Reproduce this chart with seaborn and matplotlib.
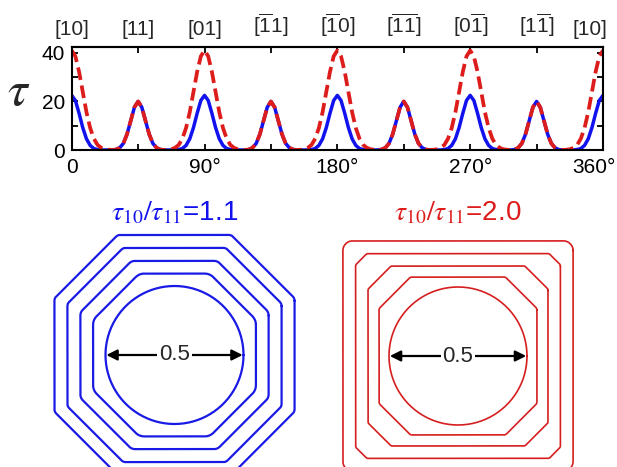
import numpy as np
import matplotlib
matplotlib.use("Agg")
import matplotlib.pyplot as plt
import matplotlib.transforms as mtransforms
import seaborn as sns

# ---------------- data ----------------
# tau(theta), sampled every 2.5 degrees from 0 to 360
blue_tau = [
    22.5, 20.4, 15.1, 9.2, 4.6, 1.9, 0.6, 0.2, 0, 0, 0, 0, 0.2, 0.9, 2.7, 6.5, 12.1, 17.6,
    20.0, 17.6, 12.1, 6.5, 2.7, 0.9, 0.2, 0, 0, 0, 0, 0.2, 0.6, 1.9, 4.6, 9.2, 15.1, 20.4,
    22.5, 20.4, 15.1, 9.2, 4.6, 1.9, 0.6, 0.2, 0, 0, 0, 0, 0.2, 0.9, 2.7, 6.5, 12.1, 17.6,
    20.0, 17.6, 12.1, 6.5, 2.7, 0.9, 0.2, 0, 0, 0, 0, 0.2, 0.6, 1.9, 4.6, 9.2, 15.1, 20.4,
    22.5, 20.4, 15.1, 9.2, 4.6, 1.9, 0.6, 0.2, 0, 0, 0, 0, 0.2, 0.9, 2.7, 6.5, 12.1, 17.6,
    20.0, 17.6, 12.1, 6.5, 2.7, 0.9, 0.2, 0, 0, 0, 0, 0.2, 0.6, 1.9, 4.6, 9.2, 15.1, 20.4,
    22.5, 20.4, 15.1, 9.2, 4.6, 1.9, 0.6, 0.2, 0, 0, 0, 0, 0.2, 0.9, 2.7, 6.5, 12.1, 17.6,
    20.0, 17.6, 12.1, 6.5, 2.7, 0.9, 0.2, 0, 0, 0, 0, 0.2, 0.6, 1.9, 4.6, 9.2, 15.1, 20.4,
    22.5,
]
red_tau = [
    41.0, 38.6, 32.2, 23.8, 15.6, 9.1, 4.7, 2.1, 0.9, 0.3, 0.1, 0, 0.2, 0.9, 2.7, 6.5, 12.1, 17.6,
    20.0, 17.6, 12.1, 6.5, 2.7, 0.9, 0.2, 0, 0.1, 0.3, 0.9, 2.1, 4.7, 9.1, 15.6, 23.8, 32.2, 38.6,
    41.0, 38.6, 32.2, 23.8, 15.6, 9.1, 4.7, 2.1, 0.9, 0.3, 0.1, 0, 0.2, 0.9, 2.7, 6.5, 12.1, 17.6,
    20.0, 17.6, 12.1, 6.5, 2.7, 0.9, 0.2, 0, 0.1, 0.3, 0.9, 2.1, 4.7, 9.1, 15.6, 23.8, 32.2, 38.6,
    41.0, 38.6, 32.2, 23.8, 15.6, 9.1, 4.7, 2.1, 0.9, 0.3, 0.1, 0, 0.2, 0.9, 2.7, 6.5, 12.1, 17.6,
    20.0, 17.6, 12.1, 6.5, 2.7, 0.9, 0.2, 0, 0.1, 0.3, 0.9, 2.1, 4.7, 9.1, 15.6, 23.8, 32.2, 38.6,
    41.0, 38.6, 32.2, 23.8, 15.6, 9.1, 4.7, 2.1, 0.9, 0.3, 0.1, 0, 0.2, 0.9, 2.7, 6.5, 12.1, 17.6,
    20.0, 17.6, 12.1, 6.5, 2.7, 0.9, 0.2, 0, 0.1, 0.3, 0.9, 2.1, 4.7, 9.1, 15.6, 23.8, 32.2, 38.6,
    41.0,
]
angle_deg = np.linspace(0, 360, len(blue_tau))

x_ticks = [0, 45, 90, 135, 180, 225, 270, 315, 360]
x_tick_labels = ["0", "", "90°", "", "180°", "", "270°", "", "360°"]
dir_labels = ["[10]", "[11]", "[01]", r"[$\overline{1}$1]", r"[$\overline{1}$0]",
              r"[$\overline{1}\overline{1}$]", r"[0$\overline{1}$]", r"[1$\overline{1}$]", "[10]"]
y_ticks = [0, 10, 20, 30, 40]
y_tick_labels = ["0", "", "20", "", "40"]

# growth-shape contours: half-width to {10} faces, to {11} faces, corner radius
blue_a = [0.25, 0.295, 0.341, 0.388, 0.435]
blue_b = [0.25, 0.299, 0.351, 0.406, 0.453]
blue_rho = [0.25, 0.045, 0.030, 0.022, 0.022]
red_a = [0.25, 0.286, 0.326, 0.371, 0.417]
red_b = [0.25, 0.324, 0.402, 0.496, 0.575]
red_rho = [0.25, 0.015, 0.012, 0.012, 0.033]
blue_title = r"$\tau_{10}/\tau_{11}$=1.1"
red_title = r"$\tau_{10}/\tau_{11}$=2.0"
diameter_label = "0.5"

# ---------------- style ----------------
sns.set_style("ticks")
plt.rcParams["font.family"] = ["Liberation Sans", "DejaVu Sans"]
plt.rcParams["mathtext.fontset"] = "custom"
plt.rcParams["mathtext.rm"] = "Liberation Sans"
plt.rcParams["mathtext.it"] = "Liberation Sans:italic"
plt.rcParams["mathtext.bf"] = "Liberation Sans:bold"

BLUE = "#1212ee"
RED = "#dd1c1c"
SH_BLUE = "#1a1ae6"
SH_RED = "#d61e1e"

W, H = 617, 467
fig = plt.figure(figsize=(W / 100, H / 100), dpi=100)
fig.patch.set_facecolor("white")

# ---------------- top panel ----------------
L, R, T, B = 71.7, 603.0, 47.3, 150.0
ax = fig.add_axes([L / W, 1 - B / H, (R - L) / W, (B - T) / H])
sns.lineplot(x=angle_deg, y=blue_tau, ax=ax, color=BLUE, lw=2.5)
sns.lineplot(x=angle_deg, y=red_tau, ax=ax, color=RED, lw=2.7)
ax.lines[-1].set_dashes((3.4, 1.5))
ax.set_xlim(0, 360)
ax.set_ylim(0, 42.3)
ax.set_xticks(x_ticks)
ax.set_xticklabels(x_tick_labels)
ax.set_yticks(y_ticks)
ax.set_yticklabels(y_tick_labels)
ax.set_xlabel("")
ax.set_ylabel("")
for s in ax.spines.values():
    s.set_visible(True)
    s.set_linewidth(1.5)
    s.set_color("black")
ax.tick_params(direction="in", length=4, width=1.3, top=True, right=True,
               labelsize=15, colors="black", pad=5)
ax.tick_params(axis="x", pad=6)
sec = ax.secondary_xaxis("top")
sec.set_xticks(x_ticks)
sec.set_xticklabels(dir_labels)
sec.tick_params(length=0, labelsize=15, pad=6)
sec.spines["top"].set_linewidth(1.5)

# the last labels sit a little inside the right edge, as in the reference
lbl = ax.get_xticklabels()[-1]
lbl.set_transform(lbl.get_transform() +
                  mtransforms.ScaledTranslation(-9 / 100, 0, fig.dpi_scale_trans))
lbl2 = sec.get_xticklabels()[-1]
lbl2.set_transform(lbl2.get_transform() +
                   mtransforms.ScaledTranslation(-13 / 100, 0, fig.dpi_scale_trans))

fig.text(19 / W, 1 - 92 / H, r"$\tau$", fontsize=36, math_fontfamily="stix",
         ha="center", va="center")

# ---------------- bottom panels ----------------
def rounded_octagon(a, b, rho, n_arc=24):
    A, Bd = a - rho, b - rho
    phis = np.deg2rad(np.arange(0, 360, 45))
    d = np.array([A, Bd] * 4)
    pts = []
    for i in range(8):
        p1, p2 = phis[i], phis[(i + 1) % 8]
        M = np.array([[np.cos(p1), np.sin(p1)], [np.cos(p2), np.sin(p2)]])
        v = np.linalg.solve(M, [d[i], d[(i + 1) % 8]])
        t = np.linspace(p1, p1 + np.pi / 4, n_arc)
        pts.append(np.column_stack([v[0] + rho * np.cos(t), v[1] + rho * np.sin(t)]))
    pts = np.vstack(pts + [pts[0][:1]])
    return pts[:, 0], pts[:, 1]

SCALE = 276.0  # px per unit


def shape_axes(cx, cy, left, right, top, bottom):
    a = fig.add_axes([left / W, 1 - bottom / H, (right - left) / W, (bottom - top) / H])
    a.set_xlim((left - cx) / SCALE, (right - cx) / SCALE)
    a.set_ylim((cy - bottom) / SCALE, (cy - top) / SCALE)
    a.axis("off")
    a.patch.set_alpha(0)
    return a


axb = shape_axes(174.5, 355.0, 5, 316, 226, 467)
for a_, b_, r_ in zip(blue_a, blue_b, blue_rho):
    x, y = rounded_octagon(a_, b_, r_)
    axb.plot(x, y, color=SH_BLUE, lw=1.6, solid_joinstyle="round")

axr = shape_axes(458.0, 356.0, 322, 614, 226, 467)
for a_, b_, r_ in zip(red_a, red_b, red_rho):
    x, y = rounded_octagon(a_, b_, r_)
    axr.plot(x, y, color=SH_RED, lw=1.2, solid_joinstyle="round")

for a in (axb, axr):
    a.annotate("", xy=(-0.247, 0), xytext=(0.247, 0),
                arrowprops=dict(arrowstyle="<|-|>", color="black", lw=1.6,
                                mutation_scale=16, shrinkA=0, shrinkB=0))
    a.text(0, 0, diameter_label, ha="center", va="center", fontsize=16,
           bbox=dict(fc="white", ec="none", pad=1.5))

fig.text(174.5 / W, 1 - 213 / H, blue_title, color=BLUE, fontsize=20,
         math_fontfamily="stix", ha="center", va="center")
fig.text(458 / W, 1 - 213 / H, red_title, color=RED, fontsize=20,
         math_fontfamily="stix", ha="center", va="center")

fig.savefig("out.png", dpi=100, facecolor="white")
